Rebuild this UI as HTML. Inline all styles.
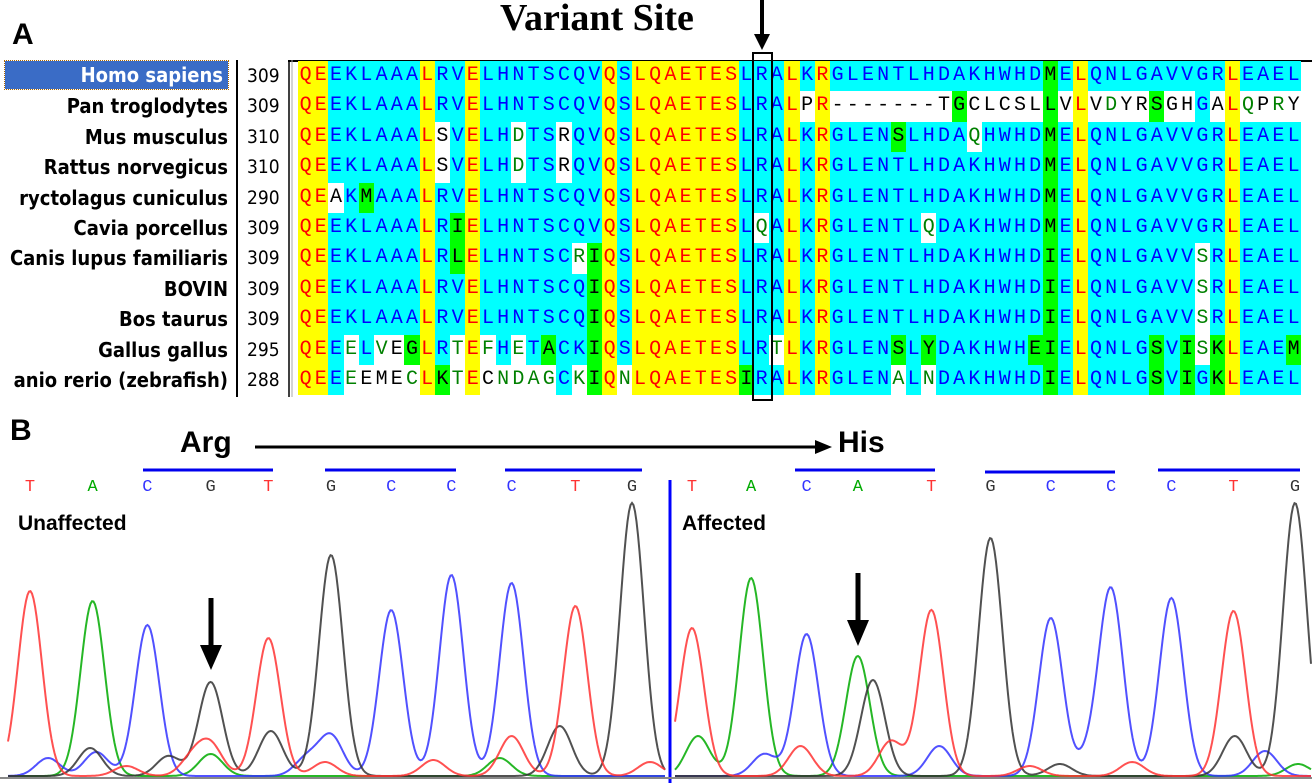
<!DOCTYPE html>
<html><head><meta charset="utf-8">
<style>
body{margin:0;background:#fff;width:1312px;height:783px;overflow:hidden;position:relative;font-family:"Liberation Sans",sans-serif}
.abs{position:absolute}
.nm{position:absolute;left:0;width:228px;text-align:right;font-weight:bold;font-size:20px;line-height:30px;color:#000;white-space:nowrap;overflow:hidden;font-family:"DejaVu Sans Condensed","Liberation Sans",sans-serif}
.num{position:absolute;left:247px;width:40px;text-align:left;font-size:19px;line-height:30px;font-family:"DejaVu Sans Condensed","Liberation Sans",sans-serif}
.ch{position:absolute;width:15.2px;height:30.4px;text-align:center;font-family:"Liberation Mono","DejaVu Sans Mono",monospace;font-size:20px;line-height:30.4px}
.y{background:#ffff00;color:#ff0000}.c{background:#00ffff;color:#0000ff}.g{background:#00ff00;color:#000}.w{background:#fff;color:#000}.v{background:#fff;color:#008000}
</style></head><body>
<div class="abs" style="left:12px;top:18px;font-size:30px;font-weight:bold">A</div>
<div class="abs" style="left:500px;top:-4px;font-family:'Liberation Serif',serif;font-weight:bold;font-size:38px">Variant Site</div>
<svg class="abs" style="left:0;top:0" width="1312" height="783">
<line x1="288" y1="61" x2="1312" y2="61" stroke="#000" stroke-width="2"/>
<line x1="237" y1="60" x2="237" y2="397" stroke="#000" stroke-width="2"/>
<line x1="289" y1="60" x2="289" y2="397" stroke="#000" stroke-width="1.5"/>
<line x1="292" y1="60" x2="292" y2="397" stroke="#aaa" stroke-width="1"/>
<line x1="762" y1="0" x2="762" y2="36" stroke="#000" stroke-width="4"/>
<polygon points="754,34 770,34 762,50" fill="#000"/>
<line x1="255" y1="447" x2="820" y2="447" stroke="#000" stroke-width="3"/>
<polygon points="815,440 832,447 815,454" fill="#000"/>
<g stroke="#0000ee" stroke-width="3">
<line x1="143" y1="470" x2="273" y2="470"/><line x1="325" y1="470" x2="456" y2="470"/><line x1="505" y1="470" x2="642" y2="470"/>
<line x1="795" y1="470" x2="935" y2="470"/><line x1="985" y1="472" x2="1115" y2="472"/><line x1="1158" y1="470" x2="1300" y2="470"/>
</g>
<line x1="670" y1="480" x2="670" y2="783" stroke="#0000ff" stroke-width="3"/>
<line x1="0" y1="778" x2="1312" y2="778" stroke="#888" stroke-width="2"/>
<line x1="211" y1="598" x2="211" y2="650" stroke="#000" stroke-width="5"/><polygon points="200,645 222,645 211,670" fill="#000"/>
<line x1="858" y1="573" x2="858" y2="625" stroke="#000" stroke-width="5"/><polygon points="847,620 869,620 858,646" fill="#000"/>
<g id="traces"></g>
</svg>
<div class="abs" id="aln"></div>
<div class="abs" style="left:752px;top:52px;width:17px;height:345px;border:2px solid #000"></div>
<div class="abs" style="left:10px;top:414px;font-size:30px;font-weight:bold">B</div>
<div class="abs" style="left:180px;top:426px;font-size:30px;font-weight:bold">Arg</div>
<div class="abs" style="left:838px;top:426px;font-size:30px;font-weight:bold">His</div>
<div class="abs" style="left:18px;top:512px;font-size:21px;font-weight:bold">Unaffected</div>
<div class="abs" style="left:682px;top:512px;font-size:21px;font-weight:bold">Affected</div>
<div id="calls"></div>
<script>
const names=["Homo sapiens","Pan troglodytes","Mus musculus","Rattus norvegicus","ryctolagus cuniculus","Cavia porcellus","Canis lupus familiaris","BOVIN","Bos taurus","Gallus gallus","anio rerio (zebrafish)"];
const starts=["309","309","310","310","290","309","309","309","309","295","288"];
const seqs=[
"QEEKLAAALRVELHNTSCQVQSLQAETESLRALKRGLENTLHDAKHWHDMELQNLGAVVGRLEAEL",
"QEEKLAAALRVELHNTSCQVQSLQAETESLRALPR-------TGCLCSLLVLVDYRSGHGALQPRY",
"QEEKLAAALSVELHDTSRQVQSLQAETESLRALKRGLENSLHDAQHWHDMELQNLGAVVGRLEAEL",
"QEEKLAAALSVELHDTSRQVQSLQAETESLRALKRGLENTLHDAKHWHDMELQNLGAVVGRLEAEL",
"QEAKMAAALRVELHNTSCQVQSLQAETESLRALKRGLENTLHDAKHWHDMELQNLGAVVGRLEAEL",
"QEEKLAAALRIELHNTSCQVQSLQAETESLQALKRGLENTLQDAKHWHDMELQNLGAVVGRLEAEL",
"QEEKLAAALRLELHNTSCRIQSLQAETESLRALKRGLENTLHDAKHWHDIELQNLGAVVSRLEAEL",
"QEEKLAAALRVELHNTSCQIQSLQAETESLRALKRGLENTLHDAKHWHDIELQNLGAVVSRLEAEL",
"QEEKLAAALRVELHNTSCQIQSLQAETESLRALKRGLENTLHDAKHWHDIELQNLGAVVSRLEAEL",
"QEEELVEGLRTEFHETACKIQSLQAETESLRTLKRGLENSLYDAKHWHEIELQNLGSVISKLEAEM",
"QEEEEMECLKTECNDAGCKIQNLQAETESIRALKRGLENALNDAKHWHDIELQNLGSVIGKLEAEL"];
const colClass="yyccccccyccyccccccccycyyyyyyycccycyccccccccccccccgcycccccccccycccc";
const overrides=[
{},
{33:"w",35:"w",36:"w",37:"w",38:"w",39:"w",40:"w",41:"w",42:"w",43:"g",44:"w",45:"w",46:"w",47:"w",48:"w",49:"g",50:"w",52:"w",53:"v",54:"w",55:"w",56:"g",57:"w",58:"w",60:"w",62:"v",63:"w",64:"v",65:"w"},
{9:"w",14:"v",17:"w",39:"g",44:"v"},
{9:"w",14:"v",17:"w"},
{2:"w",4:"g"},
{10:"g",30:"v",41:"v"},
{10:"g",18:"v",19:"g",49:"g",59:"v"},
{19:"g",49:"g",59:"v"},
{19:"g",49:"g",59:"v"},
{3:"v",5:"v",6:"w",7:"g",10:"v",12:"v",14:"v",16:"g",19:"g",31:"v",39:"g",41:"g",48:"g",49:"g",56:"g",58:"g",59:"v",60:"g",65:"g"},
{3:"v",4:"w",5:"w",6:"w",7:"v",9:"g",10:"v",12:"w",13:"v",14:"v",15:"v",16:"v",18:"v",19:"g",21:"v",29:"g",39:"v",41:"v",49:"g",56:"g",58:"g",60:"g"}];
const aln=document.getElementById('aln');
const top0=61,rh=30.4,x0=298,cw=15.2;
names.forEach((n,r)=>{
  const d=document.createElement('div');d.className='nm';d.style.top=(top0+r*rh)+'px';d.textContent=n;
  if(r===0){d.style.background='#3a6cc6';d.style.color='#fff';d.style.left='5px';d.style.width='218px';d.style.paddingRight='5px';d.style.outline='1px dotted #a60';d.style.height='28px';d.style.lineHeight='28px';}
  
  
  aln.appendChild(d);
  const s=document.createElement('div');s.className='num';s.style.top=(top0+r*rh)+'px';s.textContent=starts[r];
  
  
  aln.appendChild(s);
  const seq=seqs[r];
  for(let i=0;i<seq.length;i++){
    const e=document.createElement('div');
    e.className='ch '+(overrides[r][i]||colClass[i]);
    e.style.left=(x0+i*cw)+'px';e.style.top=(top0+r*rh)+'px';e.textContent=seq[i];
    
    
    aln.appendChild(e);
  }
});
// Chromatogram data
const leftCalls=["T","A","C","G","T","G","C","C","C","T","G"];
const rightCalls=["T","A","C","A","T","G","C","C","C","T","G"];
const leftScan=[0,1.04,1.95,3.0,3.96,5.0,6.0,7.0,8.0,9.06,10.0];
const leftHeight=[185,175,151,94,138,221,166,201,193,170,273];
const rightScan=[0,0.98,1.9,2.75,3.97,4.95,5.95,6.95,7.95,8.98,10.0];
const rightHeight=[148,198,142,120,166,238,158,185,178,165,273];
const rightSecondaryBase=["G"];
const rightSecondaryScan=[3.0];
const rightSecondaryHeight=[96];
const leftMinorBase=["G","C","T","T","C","G","T","A","C","G","C","T","A","T","G","T","T"];
const leftMinorScan=[1.0,0.3,3.0,2.7,1.1,4.0,4.9,3.0,4.6,2.3,5.0,6.7,7.8,8.0,8.8,1.6,10.3];
const leftMinorHeight=[28,18,30,18,24,45,14,22,18,20,40,16,18,40,50,10,14];
const rightMinorBase=["A","C","T","T","C","T","G","C","T","G","C","A"];
const rightMinorScan=[0.1,1.2,1.8,3.3,4.1,5.6,6.1,6.6,7.3,9.0,9.5,10.05];
const rightMinorHeight=[40,22,30,35,30,10,12,18,14,40,25,12];
const colors={A:"#00aa00",C:"#3333ff",G:"#333333",T:"#ff3333"};
const baseY=776;
const leftX=s=>30+s*60.2, rightX=s=>692+s*60.3;
const sigma=12;
const g=document.getElementById('traces');
const NS='http://www.w3.org/2000/svg';
function trace(xf,x1,x2,peaks,base){
  let d='';
  for(let x=x1;x<=x2;x+=1.5){
    let h=0;peaks.forEach(p=>{if(p.b===base){const dx=x-xf(p.s);h+=p.h*Math.exp(-dx*dx/(2*sigma*sigma));}});
    d+=(d?'L':'M')+x.toFixed(1)+','+(baseY-h).toFixed(1);
  }
  const p=document.createElementNS(NS,'path');p.setAttribute('d',d);p.setAttribute('fill','none');
  p.setAttribute('stroke',colors[base]);p.setAttribute('stroke-width','2');p.setAttribute('opacity','0.85');
  
  
  g.appendChild(p);
}
function collect(calls,scan,height,mb,ms,mh,sb,ss,sh){
  const arr=calls.map((b,i)=>({b,s:scan[i],h:height[i]}));
  mb.forEach((b,i)=>arr.push({b,s:ms[i],h:mh[i]}));
  (sb||[]).forEach((b,i)=>arr.push({b,s:ss[i],h:sh[i]}));
  return arr;
}
const lp=collect(leftCalls,leftScan,leftHeight,leftMinorBase,leftMinorScan,leftMinorHeight);
const rp=collect(rightCalls,rightScan,rightHeight,rightMinorBase,rightMinorScan,rightMinorHeight,rightSecondaryBase,rightSecondaryScan,rightSecondaryHeight);
["A","C","G","T"].forEach(b=>{trace(leftX,8,665,lp,b);trace(rightX,675,1312,rp,b);});
const callsDiv=document.getElementById('calls');
function callLetters(calls,name){
  const xf=name==='left'?leftX:rightX, sc=name==='left'?leftScan:rightScan;
  calls.forEach((c,i)=>{
    const e=document.createElement('div');
    e.style.cssText='position:absolute;top:478px;width:20px;margin-left:-10px;text-align:center;font-family:"Liberation Mono",monospace;font-size:17px;color:'+colors[c];
    e.style.left=xf(sc[i])+'px';
    e.textContent=c;
    
    
    callsDiv.appendChild(e);
  });
}
callLetters(leftCalls,'left');callLetters(rightCalls,'right');
</script>
</body></html>
